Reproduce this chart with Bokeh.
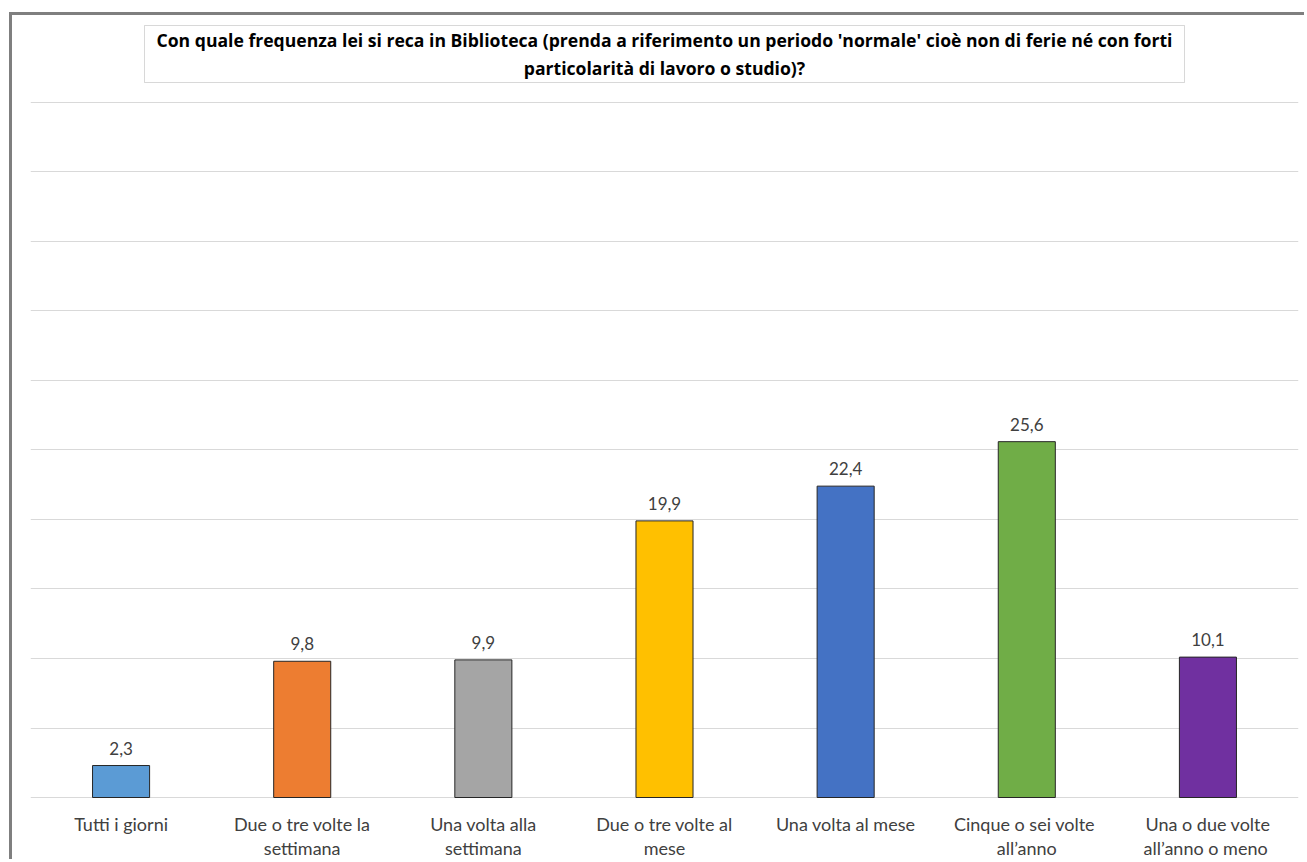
from bokeh.plotting import figure
from bokeh.models import Range1d, FixedTicker, ColumnDataSource, InlineStyleSheet, BoxAnnotation, Label
from bokeh.core.properties import value
from bokeh.embed import file_html
from bokeh.resources import INLINE

# ---- data ----
categories = [
    "Tutti i giorni",
    "Due o tre volte la\nsettimana",
    "Una volta alla\nsettimana",
    "Due o tre volte al\nmese",
    "Una volta al mese",
    "Cinque  o sei volte\nall\u2019anno",
    "Una o due volte\nall\u2019anno  o meno",
]
values = [2.3, 9.8, 9.9, 19.9, 22.4, 25.6, 10.1]
colors = ["#5B9BD5", "#ED7D31", "#A5A5A5", "#FFC000", "#4472C4", "#70AD47", "#7030A0"]
grid_ticks = [0, 5, 10, 15, 20, 25, 30, 35, 40, 45, 50]
title_text = ("Con quale frequenza lei si reca in Biblioteca (prenda a riferimento un periodo 'normale' "
              "cio\u00e8 non di ferie n\u00e9 con forti\nparticolarit\u00e0 di lavoro o studio)?")

FONT = "Lato"

src = ColumnDataSource(dict(
    cat=categories,
    val=values,
    color=colors,
    lab=[f"{v:.1f}".replace(".", ",") for v in values],
))

# canvas sits inside a 3px grey border starting at x=9, y=12
p = figure(
    width=1295, height=847,
    x_range=categories,
    y_range=Range1d(-0.2158, 56.115),
    output_backend="svg", toolbar_location=None,
    y_axis_location=None,
    min_border_left=18, min_border_right=9,
    min_border_top=2, min_border_bottom=62,
)
p.stylesheets = [InlineStyleSheet(css=":host { border-left: 3px solid #7F7F7F; border-top: 3px solid #7F7F7F; margin-left: 9px; margin-top: 12px; }")]
p.x_range.range_padding = 0
p.outline_line_color = None
p.background_fill_color = "white"
p.border_fill_color = "white"

p.xgrid.grid_line_color = None
p.ygrid.ticker = FixedTicker(ticks=grid_ticks)
p.ygrid.grid_line_color = "#D9D9D9"
p.ygrid.grid_line_width = 1

ax = p.xaxis[0]
ax.axis_line_color = None
ax.major_tick_line_color = None
ax.minor_tick_line_color = None
ax.major_tick_out = 0
ax.major_tick_in = 0
ax.major_label_standoff = 12
ax.major_label_text_font = FONT
ax.major_label_text_font_size = "18px"
ax.major_label_text_color = "#404040"
ax.major_label_text_line_height = 1.12

p.vbar(x="cat", top="val", width=0.315, bottom=0, fill_color="color",
       line_color="#262626", line_width=1, source=src)

p.text(x="cat", y="val", text="lab", source=src, y_offset=-11,
       text_align="center", text_baseline="bottom",
       text_font=value(FONT), text_font_size="17px", text_color="#404040")

# title box + title text (canvas pixel units)
p.add_layout(BoxAnnotation(left=129, right=1169, top=7, bottom=64,
                           left_units="canvas", right_units="canvas",
                           top_units="canvas", bottom_units="canvas",
                           fill_color="white", fill_alpha=1.0,
                           line_color="#7F7F7F", line_width=1))
p.add_layout(Label(x=649, y=35.5, x_units="canvas", y_units="canvas",
                   text=title_text, text_align="center", text_baseline="middle",
                   text_font="Open Sans", text_font_style="bold", text_font_size="17.6px",
                   text_color="#000000", text_line_height=1.18))

open("out.html", "w").write(file_html(p, INLINE))
